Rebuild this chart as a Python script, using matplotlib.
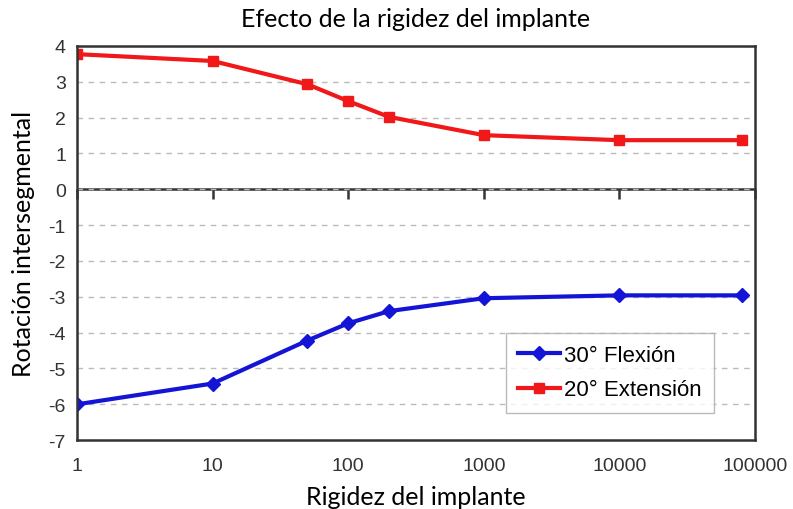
import matplotlib
matplotlib.use("Agg")
import matplotlib.pyplot as plt

# values (log x axis)
rigidez = [1, 10, 50, 100, 200, 1000, 10000, 80000]
flexion = [-6.0, -5.42, -4.22, -3.74, -3.40, -3.04, -2.96, -2.96]
extension = [3.77, 3.58, 2.93, 2.46, 2.02, 1.51, 1.37, 1.37]

xticks = [1, 10, 100, 1000, 10000, 100000]
xtick_labels = ["1", "10", "100", "1000", "10000", "100000"]
yticks = list(range(-7, 5))

fig = plt.figure(figsize=(7.93, 5.10), dpi=100)
ax = fig.add_axes([0.0971, 0.135, 0.855, 0.773])

ax.plot(rigidez, flexion, color="#1414d6", lw=3, marker="D", ms=7.5,
        label="30\u00b0 Flexi\u00f3n")
ax.plot(rigidez, extension, color="#f01818", lw=3, marker="s", ms=7.5,
        label="20\u00b0 Extensi\u00f3n")

ax.set_xscale("log")
ax.set_xlim(1, 100000)
ax.set_ylim(-7, 4)
ax.set_yticks(yticks)
ax.set_yticklabels([str(v) for v in yticks], family="Liberation Sans",
                   fontsize=14, color="#333333")
ax.set_xticks(xticks)
ax.set_xticklabels(xtick_labels, family="Liberation Sans", fontsize=14,
                   color="#333333")
ax.minorticks_off()
ax.tick_params(axis="x", length=0, pad=12)
ax.tick_params(axis="y", length=0, pad=8)

ax.grid(axis="y", color="#bbbbbb", ls=(0, (4, 4)), lw=1)
ax.axhline(0, color="#333333", lw=1.8, zorder=1)

# tick marks sit on the zero line and point down
sec = ax.secondary_xaxis(7 / 11)
sec.set_xscale("log")
sec.set_xticks(xticks)
sec.minorticks_off()
sec.set_xticklabels([])
sec.tick_params(axis="x", length=7, width=1.8, color="#333333",
                direction="in")
for sp in sec.spines.values():
    sp.set_visible(False)

for sp in ax.spines.values():
    sp.set_color("#333333")
    sp.set_linewidth(1.8)

leg = ax.legend(loc="lower right", bbox_to_anchor=(0.94, 0.07),
                prop={"family": "Liberation Sans", "size": 16},
                frameon=True, fancybox=False, handlelength=1.9,
                handletextpad=0.2, borderpad=0.55, labelspacing=0.6,
                borderaxespad=0)
leg.get_frame().set_edgecolor("#aaaaaa")
leg.get_frame().set_linewidth(1)

ax.set_title("Efecto de la rigidez del implante", family="Lato",
             fontsize=18, pad=14)
# the reference crops this label at the bottom edge; keep it just inside
ax.set_xlabel("Rigidez del implante", family="Lato", fontsize=18,
              labelpad=8)
ax.set_ylabel("Rotaci\u00f3n intersegmental", family="Lato", fontsize=18,
              labelpad=10)

fig.savefig("out.png", dpi=100)
